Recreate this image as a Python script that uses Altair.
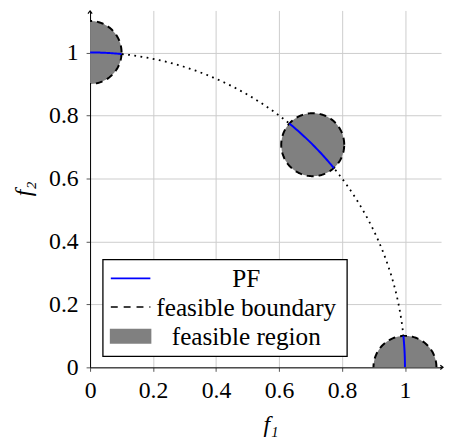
import numpy as np
import pandas as pd
import altair as alt

# ---- data ----
centers_x = [0.0, 0.7071, 1.0]
centers_y = [1.0, 0.7071, 0.0]
radius = 0.1
front_radius = 1.0
pf_angles_deg = [[84.27, 90.0], [39.27, 50.73], [0.0, 5.73]]  # PF pieces on unit circle
ticks = [0, 0.2, 0.4, 0.6, 0.8, 1.0]
legend_labels = ["PF", "feasible boundary", "feasible region"]
x_title = "f\u2081"
y_title = "f\u2082"

W, H = 355, 361
XMAX = W / 318.5
YMAX = H / 318.5
FONT = "Liberation Serif"

# ---- derived geometry ----
rows_fill, rows_edge = [], []
for i, (cx, cy) in enumerate(zip(centers_x, centers_y)):
    xs = np.linspace(cx - radius, cx + radius, 121)
    h = np.sqrt(np.clip(radius**2 - (xs - cx) ** 2, 0, None))
    for x, hh in zip(xs, h):
        rows_fill.append({"c": i, "x": x, "y": cy + hh, "y2": cy - hh})
    th = np.linspace(0, 2 * np.pi, 181)
    for k, t in enumerate(th):
        rows_edge.append({"c": i, "o": k, "x": cx + radius * np.cos(t), "y": cy + radius * np.sin(t)})
fill_df = pd.DataFrame(rows_fill)
edge_df = pd.DataFrame(rows_edge)

th = np.linspace(0, np.pi / 2, 200)
arc_df = pd.DataFrame({"o": range(len(th)), "x": front_radius * np.cos(th), "y": front_radius * np.sin(th)})

pf_rows = []
for i, (a0, a1) in enumerate(pf_angles_deg):
    for k, t in enumerate(np.radians(np.linspace(a0, a1, 30))):
        pf_rows.append({"c": i, "o": k, "x": front_radius * np.cos(t), "y": front_radius * np.sin(t)})
pf_df = pd.DataFrame(pf_rows)

xs = alt.Scale(domain=[0, XMAX], nice=False, zero=False)
ys = alt.Scale(domain=[0, YMAX], nice=False, zero=False)

common = dict(values=ticks, format=".1~f", grid=True, labelFlush=False, labelOverlap=False,
              labelFont=FONT, labelFontSize=24, labelColor="black",
              titleFont=FONT, titleFontSize=24, titleFontStyle="italic", titleFontWeight="normal",
              titleColor="black", domainColor="black", domainWidth=1,
              tickColor="#555555", tickSize=4, tickWidth=1,
              gridColor="#cccccc", gridWidth=1)
xaxis = alt.Axis(title=x_title, labelPadding=7,
                 titleX=W / 2 + 5, titleY=58, titleBaseline="middle", titleAlign="center", **common)
yaxis = alt.Axis(title=y_title, labelPadding=8,
                 titleX=-67, titleY=180, titleAngle=270, titleBaseline="middle", titleAlign="center", **common)

arc = alt.Chart(arc_df).mark_line(color="black", strokeDash=[1.8, 4.5], strokeWidth=1.8, clip=True).encode(
    x=alt.X("x:Q", scale=xs, axis=xaxis),
    y=alt.Y("y:Q", scale=ys, axis=yaxis),
    order="o:Q",
)

fill = alt.Chart(fill_df).mark_area(color="#808080", opacity=1, clip=True).encode(
    x=alt.X("x:Q", scale=xs),
    y=alt.Y("y:Q", scale=ys),
    y2="y2:Q",
    detail="c:N",
)

edge = alt.Chart(edge_df).mark_line(color="black", strokeDash=[7, 5], strokeWidth=2, clip=True).encode(
    x=alt.X("x:Q", scale=xs),
    y=alt.Y("y:Q", scale=ys),
    detail="c:N",
    order="o:Q",
)

pf = alt.Chart(pf_df).mark_line(color="#0000ff", strokeWidth=2, clip=True).encode(
    x=alt.X("x:Q", scale=xs),
    y=alt.Y("y:Q", scale=ys),
    detail="c:N",
    order="o:Q",
)

one = pd.DataFrame({"a": [0]})

# axis arrow heads and extensions
xext = alt.Chart(one).mark_rule(color="black", strokeWidth=1).encode(
    x=alt.value(W - 1), x2=alt.value(W + 2), y=alt.value(H))
xarrow = alt.Chart(one).mark_point(shape="M-0.7,-0.55L0,0L-0.7,0.55", filled=False, color="black",
                                   strokeWidth=1.2, size=60, opacity=1).encode(
    x=alt.value(W + 2), y=alt.value(H))
yarrow = alt.Chart(one).mark_point(shape="M-0.55,0.7L0,0L0.55,0.7", filled=False, color="black",
                                   strokeWidth=1.2, size=60, opacity=1).encode(
    x=alt.value(0), y=alt.value(0.5))

# legend (manual)
lx0, lx1, ly0, ly1 = 13, 260, 252, 350
box = alt.Chart(one).mark_rect(fill="white", stroke="black", strokeWidth=1.3).encode(
    x=alt.value(lx0), x2=alt.value(lx1), y=alt.value(ly0), y2=alt.value(ly1))
row_y = [271, 300, 329]
leg_pf = alt.Chart(one).mark_rule(color="#0000ff", strokeWidth=1.6).encode(
    x=alt.value(21), x2=alt.value(61), y=alt.value(row_y[0]))
leg_bd = alt.Chart(one).mark_rule(color="black", strokeWidth=1.6, strokeDash=[7, 6]).encode(
    x=alt.value(21), x2=alt.value(61), y=alt.value(row_y[1]))
leg_rg = alt.Chart(one).mark_rect(color="#808080").encode(
    x=alt.value(20), x2=alt.value(62), y=alt.value(row_y[2] - 7), y2=alt.value(row_y[2] + 8))
texts = [
    alt.Chart(one).mark_text(font=FONT, fontSize=25.5, align="center", baseline="middle", color="black").encode(
        x=alt.value(158), y=alt.value(ry + 1), text=alt.value(lbl))
    for lbl, ry in zip(legend_labels, row_y)
]

chart = alt.layer(arc, fill, edge, pf, xext, xarrow, yarrow, box, leg_pf, leg_bd, leg_rg, *texts).properties(
    width=W, height=H,
    autosize=alt.AutoSizeParams(type="none"),
    padding={"left": 83, "top": 0, "right": 4, "bottom": 70},
).configure_view(stroke=None)

chart.save("out.html", embed_options={"renderer": "svg", "actions": False})
